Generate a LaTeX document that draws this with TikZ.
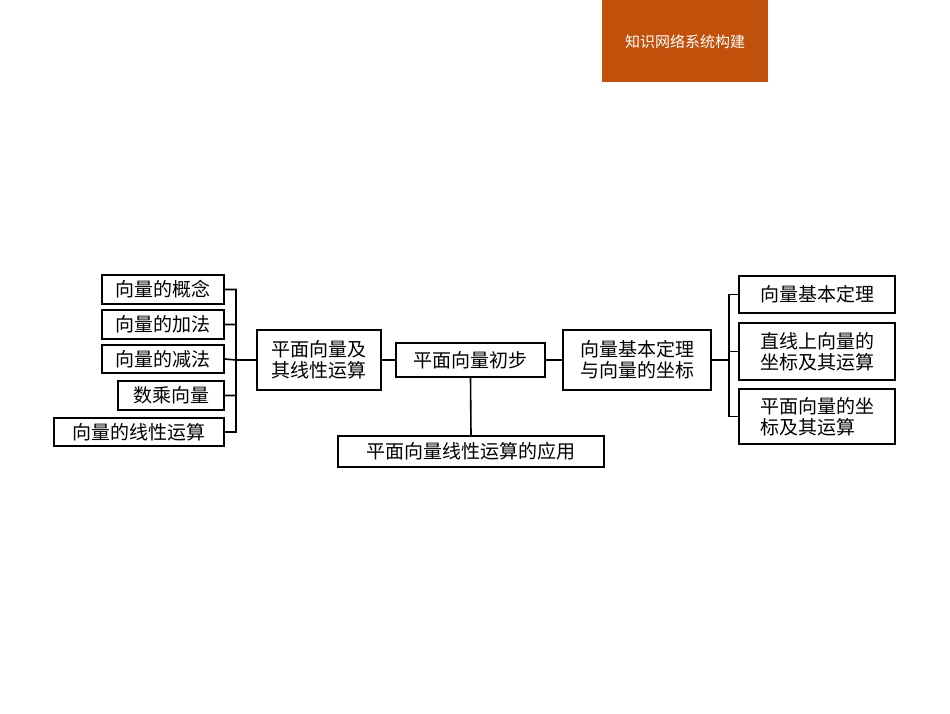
\documentclass[tikz,border=0pt]{standalone}
\usepackage{fontspec}
\setmainfont{Noto Sans CJK SC}
\newfontfamily\cjk{Noto Sans CJK SC}
\definecolor{hdr}{HTML}{C0500A}
\begin{document}
\begin{tikzpicture}[x=1pt,y=-1pt,
  bx/.style={draw,line width=1.6pt,inner sep=0pt,font=\cjk\fontsize{19}{21}\selectfont,align=left},
  ln/.style={line width=1.6pt}]
\useasboundingbox (0,0) rectangle (950,713);
\fill[hdr] (602,0) rectangle (768,82);
\node[text=white,font=\cjk\fontsize{15}{17}\selectfont] (h) at (685,42) {知识网络系统构建};
\newcommand\bxat[6]{\node[bx,minimum width=#3-#2,minimum height=#5-#4] (#1) at ({(#2+#3)/2},{(#4+#5)/2}) {#6};}
\bxat{l1}{102}{224}{275}{304}{向量的概念}
\bxat{l2}{102}{224}{310}{339}{向量的加法}
\bxat{l3}{102}{224}{345}{373}{向量的减法}
\bxat{l4}{118}{224}{381}{410}{数乘向量}
\bxat{l5}{54}{224}{418}{446}{向量的线性运算}
\bxat{a}{257}{381}{330}{390}{平面向量及\\其线性运算}
\bxat{b}{396}{545}{343}{377}{平面向量初步}
\bxat{c}{563}{711}{330}{390}{向量基本定理\\与向量的坐标}
\bxat{d}{338}{604}{436}{467}{平面向量线性运算的应用}
\bxat{r1}{739}{895}{276}{313}{向量基本定理}
\bxat{r2}{739}{895}{323}{380}{直线上向量的\\坐标及其运算}
\bxat{r3}{739}{895}{389}{444}{平面向量的坐\\标及其运算}
\coordinate (lj) at (236,360);
\coordinate (rj) at (729,360);
\draw[ln] (l1.east) -| (lj) (l2.east) -| (lj) (l3.east) -- (lj) (l4.east) -| (lj) (l5.east) -| (lj);
\draw[ln] (lj) -- (a.west);
\draw[ln] (a.east) -- (b.west);
\draw[ln] (b.east) -- (c.west);
\draw[ln] (b.south) -- (d.north);
\draw[ln] (c.east) -- (rj);
\draw[ln] (r1.west) -| (rj) (r2.west) -| (rj) (r3.west) -| (rj);
\end{tikzpicture}
\end{document}
